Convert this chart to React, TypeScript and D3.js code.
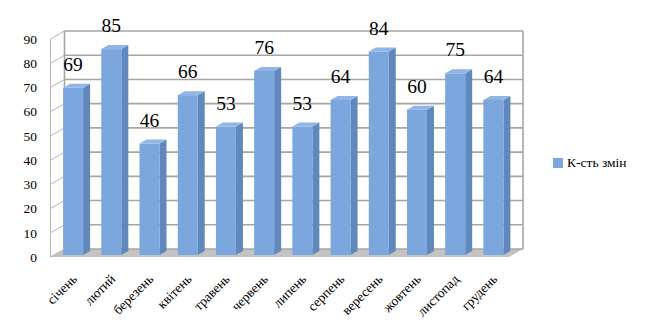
import React from "react";
import * as d3 from "d3";

const categories = ["січень", "лютий", "березень", "квітень", "травень", "червень", "липень", "серпень", "вересень", "жовтень", "листопад", "грудень"];
const values = [69, 85, 46, 66, 53, 76, 53, 64, 84, 60, 75, 64];
const yTicks = [0, 10, 20, 30, 40, 50, 60, 70, 80, 90];
const seriesName = "К-сть змін";

const W = 652;
const H = 326;
const FONT = "'Liberation Serif', 'Times New Roman', 'Liberation Sans', Arial, sans-serif";

export default function App() {
  const x0 = 50.5;
  const x1 = 509;
  const DX = 14;
  const DY = -8;
  const x = d3.scaleBand<string>().domain(categories).range([x0, x1]).paddingInner(0).paddingOuter(0);
  const y = d3.scaleLinear().domain([0, 90]).range([257, 39]);
  const barW = 20;
  const fOff = { dx: DX * 0.25, dy: DY * 0.25 };
  const dX = DX * 0.5;
  const dY = DY * 0.5;
  const grid = "#a6a6a6";
  const front = "#7BA7DE";
  const side = "#6188BC";
  const top = "#8FB6E6";
  const ts = { fontFamily: FONT } as React.CSSProperties;

  return (
    <svg width={W} height={H} style={{ position: "absolute", left: 0, top: 0, background: "#fff", fontFamily: FONT }}>
      <polygon
        points={`${x0},${y(0)} ${x1},${y(0)} ${x1 + DX},${y(0) + DY} ${x0 + DX},${y(0) + DY}`}
        fill="#c3c3c3"
      />
      {yTicks.map((t) => (
        <line key={"s" + t} x1={x0} y1={y(t)} x2={x0 + DX} y2={y(t) + DY} stroke="#b5b5b5" strokeWidth={1} />
      ))}
      <line x1={x0} y1={y(0)} x2={x0} y2={y(90)} stroke="#b5b5b5" strokeWidth={1} />
      {yTicks.map((t) => (
        <line key={"g" + t} x1={x0 + DX} y1={y(t) + DY} x2={x1 + DX} y2={y(t) + DY} stroke={grid} strokeWidth={1.6} />
      ))}
      <line x1={x0 + DX} y1={y(0) + DY} x2={x0 + DX} y2={y(90) + DY} stroke={grid} strokeWidth={1.6} />
      <line x1={x1 + DX} y1={y(0) + DY} x2={x1 + DX} y2={y(90) + DY} stroke={grid} strokeWidth={1.6} />
      {yTicks.map((t) => (
        <text key={"t" + t} x={37} y={y(t)} dy="0.35em" textAnchor="end" style={ts} fontSize={13.5} fill="#000">
          {t}
        </text>
      ))}
      {categories.map((c, i) => {
        const cx = (x(c) as number) + x.bandwidth() / 2 + fOff.dx;
        const l = cx - barW / 2;
        const r = cx + barW / 2;
        const b = y(0) + fOff.dy;
        const tp = y(values[i]) + fOff.dy;
        return (
          <g key={c}>
            <polygon points={`${r},${tp} ${r + dX},${tp + dY} ${r + dX},${b + dY} ${r},${b}`} fill={side} />
            <polygon points={`${l},${tp} ${r},${tp} ${r + dX},${tp + dY} ${l + dX},${tp + dY}`} fill={top} />
            <rect x={l} y={tp} width={barW} height={b - tp} fill={front} />
            <text x={cx} y={tp - 17} textAnchor="middle" style={ts} fontSize={19.5} fill="#000">
              {values[i]}
            </text>
            <text
              transform={`translate(${cx - 2},${273}) rotate(-45)`}
              dy="0.71em"
              textAnchor="end"
              style={ts}
              fontSize={13.5}
              fill="#000"
            >
              {c}
            </text>
          </g>
        );
      })}
      <rect x={553} y={158} width={10} height={10} fill={front} />
      <text x={567} y={167} style={ts} fontSize={13.5} fill="#000">
        {seriesName}
      </text>
    </svg>
  );
}
